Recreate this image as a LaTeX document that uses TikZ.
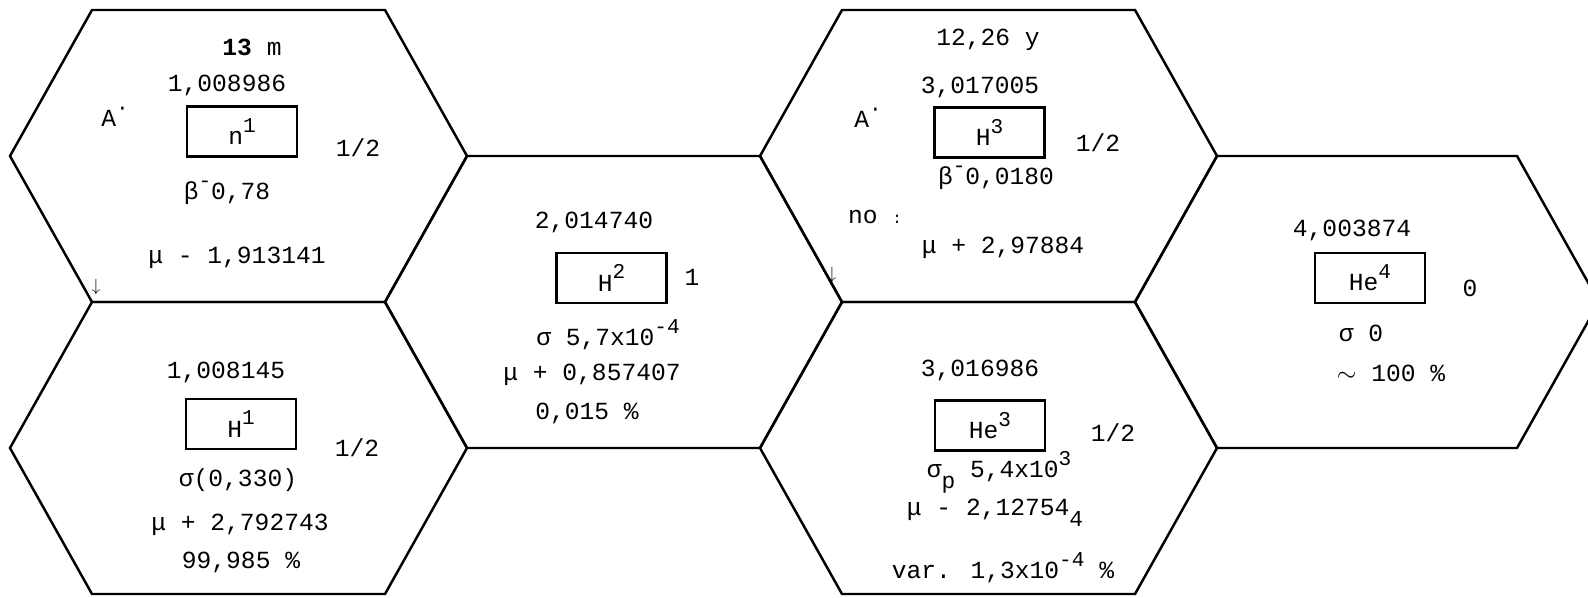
\documentclass[tikz,border=0pt]{standalone}
\usepackage{fontspec}
\setmainfont{Liberation Mono}
\usetikzlibrary{calc}
\newcommand\up[1]{\raisebox{0.5em}{\fontsize{12}{12}\selectfont #1}}
\newcommand\dn[1]{\raisebox{-0.45em}{\fontsize{13}{13}\selectfont #1}}

\begin{document}
\begin{tikzpicture}[x=0.02cm, y=-0.02cm,
    cell/.style={line width=1.4pt, line join=miter},
    symbox/.style={rectangle, draw, line width=1.2pt, minimum width=2.2cm, minimum height=1cm, inner sep=0pt, font=\fontsize{14}{16}\selectfont},
    val/.style={inner sep=0pt, font=\fontsize{14}{16}\selectfont},
    tick/.style={inner sep=0pt, font=\normalsize}
]
\useasboundingbox (0,0) rectangle (1588,598);
% hexagon centres
\coordinate (cn1)  at (238.5,156);
\coordinate (ch1)  at (238.5,448);
\coordinate (ch2)  at (613.5,302);
\coordinate (ch3)  at (988.5,156);
\coordinate (che3) at (988.5,448);
\coordinate (che4) at (1366,302);
\foreach \c in {cn1,ch1,ch2,ch3,che3}
  \draw[cell] (\c) ++(-228.5,0) -- ++(82,-146) -- ++(293,0) -- ++(82,146)
    -- ++(-82,146) -- ++(-293,0) -- cycle;
\draw[cell] (che4) ++(-231,0) -- ++(82,-146) -- ++(300,0) -- ++(82,146)
    -- ++(-82,146) -- ++(-300,0) -- cycle;

% n1
\node[val] (n1life)  at (252,47)    {\textbf{13} m};
\node[val] (n1mass)  at (227,85)    {1,008986};
\node[val] (n1decay) at (115,117)   {A\up{·}};
\node[symbox] (n1box) at (242,131.5) {n\up{1}};
\node[val] (n1spin)  at (358,148)   {1/2};
\node[val] (n1beta)  at (227,193)   {β\up{-}0,78};
\node[val] (n1mu)    at (237,258)   {μ - 1,913141};
\node[tick] (n1mark) at (96,287)    {$\downarrow$};

% H1
\node[val] (h1mass)  at (226,372)   {1,008145};
\node[symbox] (h1box) at (241,424)  {H\up{1}};
\node[val] (h1spin)  at (357,448)   {1/2};
\node[val] (h1sigma) at (238,480)   {σ(0,330)};
\node[val] (h1mu)    at (240,525)   {μ + 2,792743};
\node[val] (h1abund) at (241,562)   {99,985 \%};

% H2
\node[val] (h2mass)  at (594,222)   {2,014740};
\node[symbox] (h2box) at (611.5,278) {H\up{2}};
\node[val] (h2spin)  at (692,277)   {1};
\node[val] (h2sigma) at (608,335)   {σ 5,7x10\up{-4}};
\node[val] (h2mu)    at (592,375)   {μ + 0,857407};
\node[val] (h2abund) at (587,413)   {0,015 \%};

% H3
\node[val] (h3life)  at (988,40)    {12,26 y};
\node[val] (h3mass)  at (980,87)    {3,017005};
\node[val] (h3decay) at (868,118)   {A\up{·}};
\node[symbox] (h3box) at (989.5,132.5) {H\up{3}};
\node[val] (h3spin)  at (1098,143)  {1/2};
\node[val] (h3beta)  at (996,178)   {β\up{-}0,0180};
\node[val] (h3note)  at (875,217)   {no {\small:}};
\node[val] (h3mu)    at (1003,248)  {μ + 2,97884};
\node[tick] (h3mark) at (832,275)   {$\downarrow$};

% He3
\node[val] (he3mass)  at (980,370)  {3,016986};
\node[symbox] (he3box) at (990,425.5) {He\up{3}};
\node[val] (he3spin)  at (1113,433) {1/2};
\node[val] (he3sigma) at (999,472)  {σ\dn{p} 5,4x10\up{3}};
\node[val] (he3mu)    at (995,513)  {μ - 2,12754\dn{4}};
\node[val] (he3abund) at (1003,568) {var. 1,3x10\up{-4} \%};

% He4
\node[val] (he4mass)  at (1352,230) {4,003874};
\node[symbox] (he4box) at (1370,278) {He\up{4}};
\node[val] (he4spin)  at (1470,288) {0};
\node[val] (he4sigma) at (1361,333) {σ 0};
\node[val] (he4abund) at (1391,373) {$\sim$ 100 \%};
\end{tikzpicture}
\end{document}
